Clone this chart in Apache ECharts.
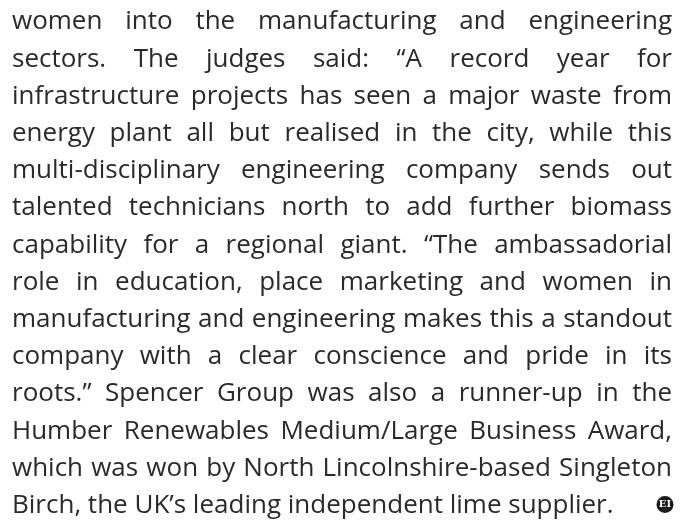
<!DOCTYPE html>
<html>
<head>
<meta charset="utf-8">
<script src="https://cdn.jsdelivr.net/npm/echarts@6/dist/echarts.min.js"></script>
<style>
  html, body { margin: 0; background: #fff; }
  #main { width: 690px; height: 521px; }
</style>
</head>
<body>
<div id="main"></div>
<script>
  // text lines of the paragraph, as set in the reference
  const lines = [
    'women into the manufacturing and engineering',
    'sectors. The judges said: \u201cA record year for',
    'infrastructure projects has seen a major waste from',
    'energy plant all but realised in the city, while this',
    'multi-disciplinary engineering company sends out',
    'talented technicians north to add further biomass',
    'capability for a regional giant. \u201cThe ambassadorial',
    'role in education, place marketing and women in',
    'manufacturing and engineering makes this a standout',
    'company with a clear conscience and pride in its',
    'roots.\u201d Spencer Group was also a runner-up in the',
    'Humber Renewables Medium/Large Business Award,',
    'which was won by North Lincolnshire-based Singleton',
    'Birch, the UK\u2019s leading independent lime supplier.'
  ]
  const endMark = 'EI'

  const fontSize = 26
  const fontFamily = '"Open Sans"'
  const textColor = '#2a2a2a'
  const left = 12
  const right = 672
  const firstBaseline = 29
  const lineStep = 37.2

  let ctx = document.createElement('canvas').getContext('2d')
  ctx.font = fontSize + 'px ' + fontFamily
  const spaceW = ctx.measureText(' ').width

  let elements = []
  lines.forEach((line, i) => {
    let words = line.split(' ')
    let widths = words.map(w => ctx.measureText(w).width)
    let total = widths.reduce((a, b) => a + b, 0)
    let last = i === lines.length - 1
    // justified lines, the last one is set with normal spaces
    let gap = last ? spaceW : (right - left - total) / (words.length - 1)
    let x = left
    let y = firstBaseline + lineStep * i
    words.forEach((w, k) => {
      elements.push({
        type: 'text',
        x: x,
        y: y - 20,
        style: {
          text: w,
          fill: textColor,
          font: fontSize + 'px ' + fontFamily,
          align: 'left',
          verticalAlign: 'top'
        }
      })
      x += widths[k] + gap
    })
  })

  // end-of-article mark
  let markY = firstBaseline + lineStep * (lines.length - 1) - 8
  elements.push({
    type: 'circle',
    shape: { cx: 665, cy: markY, r: 8.5 },
    style: { fill: '#1a1a1a' }
  })
  elements.push({
    type: 'text',
    x: 665,
    y: markY,
    style: {
      text: endMark,
      fill: '#fff',
      font: 'bold 10px "DejaVu Serif"',
      align: 'center',
      verticalAlign: 'middle'
    }
  })

  let mychart = echarts.init(document.getElementById('main'))
  mychart.setOption({
    backgroundColor: '#fff',
    graphic: { elements: elements }
  })
</script>
</body>
</html>
